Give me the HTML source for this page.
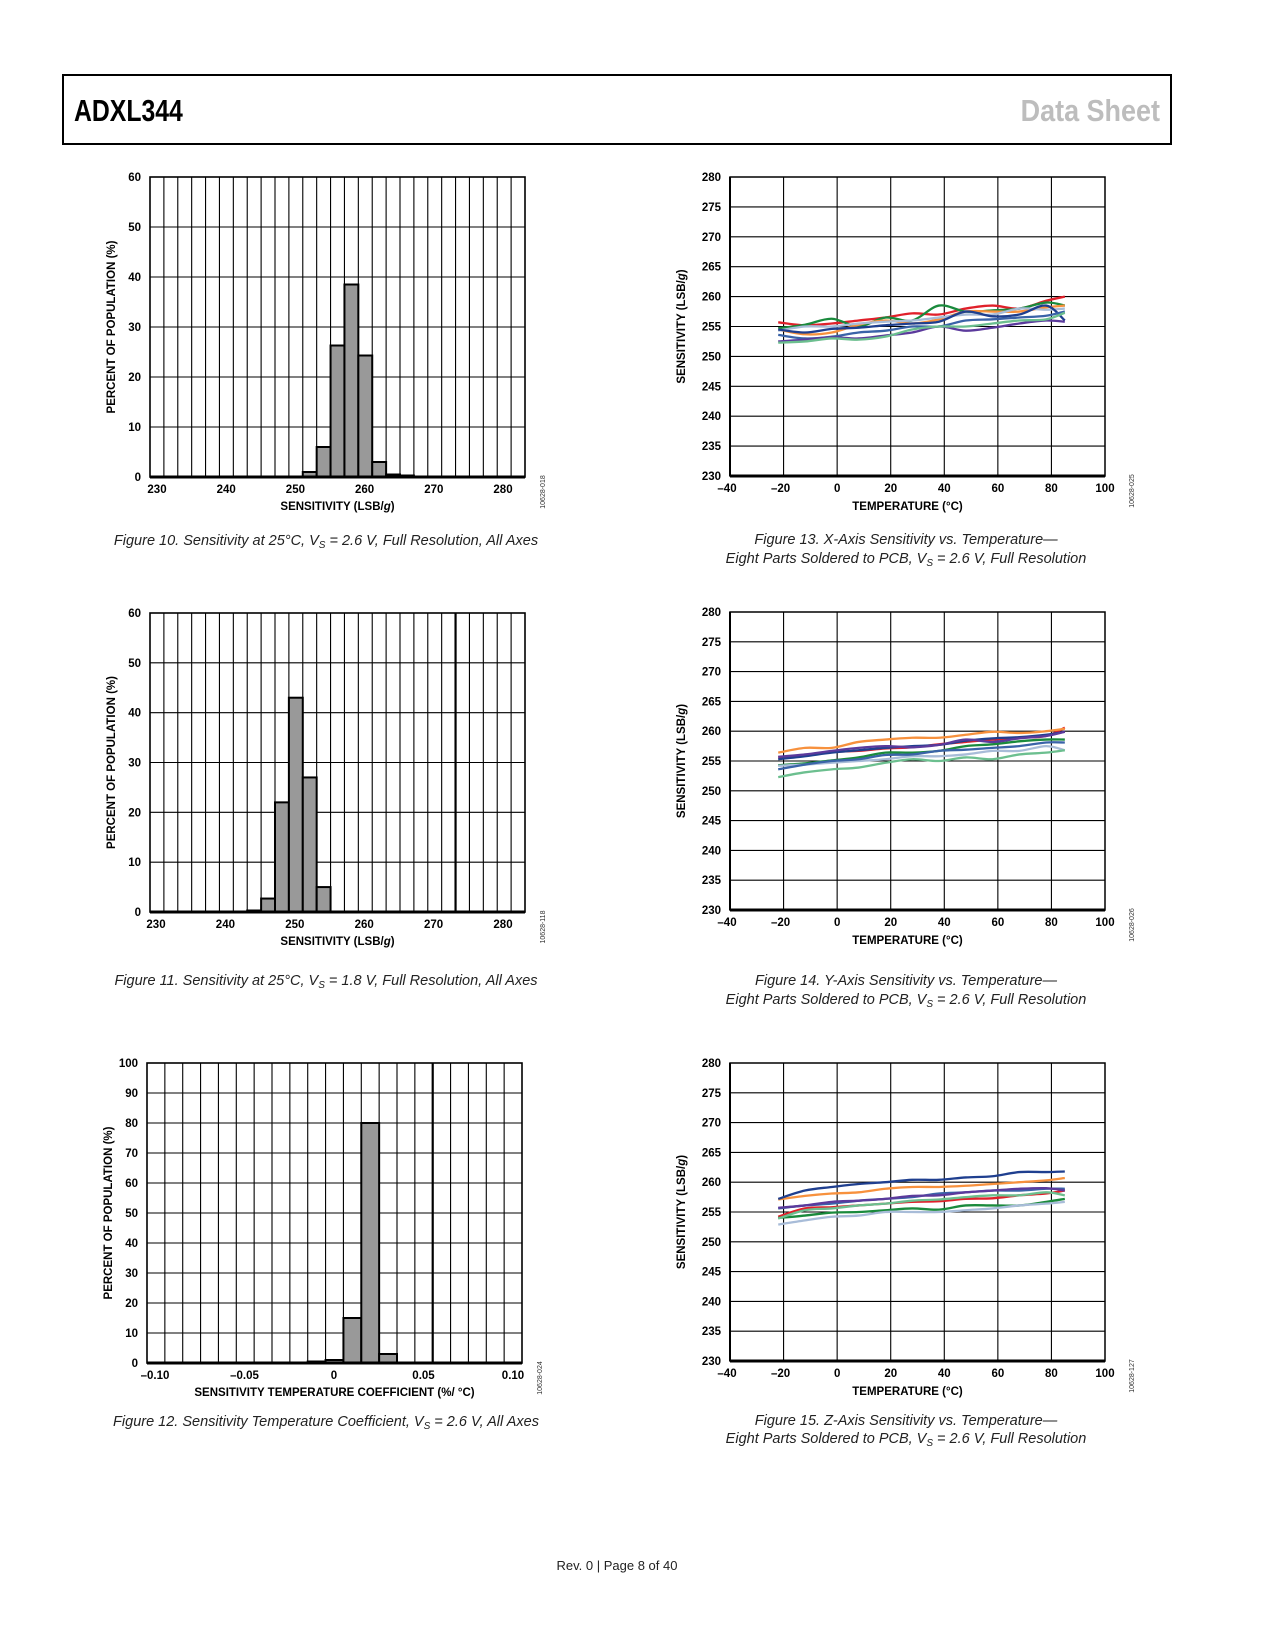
<!DOCTYPE html>
<html><head><meta charset="utf-8"><style>
html,body{margin:0;padding:0;background:#fff;width:1275px;height:1650px;overflow:hidden}
svg{display:block}
.t{font-family:"Liberation Sans",Arial,sans-serif;font-weight:bold;font-size:11.5px;fill:#000}
.cap{font-family:"Liberation Sans",Arial,sans-serif;font-style:italic;font-size:14.5px;fill:#222}
.code{font-family:"Liberation Sans",Arial,sans-serif;font-size:7px;fill:#333}
</style></head><body>
<svg id="page" width="1275" height="1650" viewBox="0 0 1275 1650" xmlns="http://www.w3.org/2000/svg">
<g>
<rect x="63" y="75" width="1108" height="69" fill="none" stroke="#000" stroke-width="2"/>
<text x="74" y="121" font-family="'Liberation Sans Narrow','Liberation Sans',sans-serif" font-weight="bold" font-size="31" transform="translate(74,0) scale(0.8,1) translate(-74,0)">ADXL344</text>
<text x="1160" y="121" text-anchor="end" font-family="'Liberation Sans Narrow','Liberation Sans',sans-serif" font-weight="bold" font-size="31" fill="#bdbdbd" transform="translate(1160,0) scale(0.87,1) translate(-1160,0)">Data Sheet</text>
</g>
<g id="charts"></g>
<text x="617" y="1570" text-anchor="middle" font-family="'Liberation Sans',sans-serif" font-size="13" fill="#222">Rev. 0 | Page 8 of 40</text>
</svg>
<script>
// ---- Histogram data ----
const h1Bins = [11,12,13,14,15,16,17,18];
const h1Vals = [1,6,26.3,38.5,24.3,3,0.5,0.3];
const h1YTicks = [0,10,20,30,40,50,60];
const h1XTicks = ["230","240","250","260","270","280"];
const h2Bins = [7,8,9,10,11,12];
const h2Vals = [0.3,2.7,22,43,27,5];
const h2YTicks = [0,10,20,30,40,50,60];
const h2XTicks = ["230","240","250","260","270","280"];
const h3Bins = [9,10,11,12,13];
const h3Vals = [0.5,1,15,80,3];
const h3YTicks = [0,10,20,30,40,50,60,70,80,90,100];
const h3XTicks = ["\u20130.10","\u20130.05","0","0.05","0.10"];
// ---- Temperature data ----
const temps = [-22,-12,-2,8,18,28,38,48,58,68,78,85];
const tYTicks = [230,235,240,245,250,255,260,265,270,275,280];
const tXTicks = [-40,-20,0,20,40,60,80,100];
const colors = ["#e0202a","#1a8a3c","#f7913d","#a8bcd8","#1f3f8f","#3a63a8","#5b3a9c","#6cbf8f"];
const xRed=[255.7,255.2,255.5,256,256.5,257.2,257,258,258.5,258,259.3,260];
const xGreen=[254.7,255.3,256.3,255,256.5,256,258.5,257.5,257.7,258,259,258.5];
const xOrange=[254.5,253.7,254,255.3,256,255.5,256.2,257.5,257.5,257.5,258.2,258.5];
const xGray=[254.3,255,255,255.5,255.8,256,256.5,257,257,258,257.8,258];
const xNavy=[254.5,254,254.6,254.8,255.2,255.5,255.8,257.5,256.7,257,258.5,256];
const xBlue=[253.6,253,253.3,254,254.3,255,255,256,256.2,256.5,256.8,257.5];
const xPurple=[252.5,252.8,253.2,253,253.5,254,255,254.3,254.8,255.5,256,255.8];
const xMint=[252.3,252.5,253,252.8,253.3,254.5,255,255,255.5,256,256.2,257.3];
const yRed=[255.6,256,256.5,256.7,257.1,257.3,257.8,258.2,258.6,258.9,259.2,260.6];
const yGreen=[254.3,254.6,255.1,255.6,256.4,256.4,256.7,257.5,257.8,258.3,258.6,258.6];
const yOrange=[256.4,257.2,257.2,258.2,258.6,258.9,258.9,259.4,259.9,259.7,260,260.4];
const yGray=[254.2,254.4,254.7,255,255.3,255.8,255.8,256.1,256.7,256.7,257.5,256.8];
const yNavy=[255.3,255.8,256.4,256.8,257.2,257.5,257.7,258.4,258.8,259,259.4,259.9];
const yBlue=[253.6,254.4,255,255.3,256,256.1,256.7,256.9,257.2,257.5,258.1,258.1];
const yPurple=[255.7,256.1,256.7,257.2,257.5,257.3,257.7,258.6,258.2,258.8,259.2,259.9];
const yMint=[252.3,253.1,253.6,253.9,254.7,255.3,255,255.6,255.3,256.1,256.4,256.8];
const zRed=[254.2,255.6,255.8,256.1,256.4,256.7,256.8,257.2,257.3,257.8,258.1,258.6];
const zGreen=[254,254.4,254.9,255,255.3,255.6,255.4,256.1,256.1,256.1,256.7,257.2];
const zOrange=[257.1,257.7,258.1,258.3,258.9,259.2,259.2,259.4,259.7,260,260.3,260.7];
const zGray=[252.9,253.6,254.2,254.4,255,255,255,255.3,255.6,256.1,256.4,256.7];
const zNavy=[257.2,258.6,259.2,259.7,260,260.4,260.4,260.8,261,261.7,261.7,261.8];
const zBlue=[255.6,256.1,256.4,256.9,257.2,257.5,258.1,258.3,258.6,258.6,258.9,258.9];
const zPurple=[255.7,256.1,256.7,256.9,257.2,257.7,257.8,258.3,258.6,258.9,259,258.6];
const zMint=[253.9,255.3,255.6,256.1,256.4,256.9,257.1,257.5,257.8,257.8,258.3,257.8];

const NS="http://www.w3.org/2000/svg";
const root=document.getElementById('charts');
function mk(tag,attrs,parent){const e=document.createElementNS(NS,tag);for(const k in attrs)e.setAttribute(k,attrs[k]);(parent||root).appendChild(e);return e;}
function txt(x,y,s,cls,anchor,parent){const e=mk('text',{x:x,y:y,class:cls,'text-anchor':anchor||'middle'},parent);e.textContent=s;return e;}

function hist(o){
  const g=mk('g',{});
  
  
  const W=o.R-o.L,H=o.B-o.T,cw=W/o.cols;
  const ymax=o.yt[o.yt.length-1];
  const ys=v=>o.B-v/ymax*H;
  for(let i=1;i<o.cols;i++){const l=mk('line',{x1:o.L+i*cw,x2:o.L+i*cw,y1:o.T,y2:o.B,stroke:'#000','stroke-width':i===o.thick?2.2:1.1},g);
    }
  o.yt.forEach(v=>{const l=mk('line',{x1:o.L,x2:o.R,y1:ys(v),y2:ys(v),stroke:'#000','stroke-width':1.1},g);
    
    const t=txt(o.L-9,ys(v)+4,String(v),'t','end',g);
    });
  o.bins.forEach((b,i)=>{const r=mk('rect',{x:o.L+b*cw,y:ys(o.vals[i]),width:cw,height:o.B-ys(o.vals[i]),fill:'#999',stroke:'#000','stroke-width':2},g);
    });
  const f=mk('rect',{x:o.L,y:o.T,width:W,height:H,fill:'none',stroke:'#000','stroke-width':1.6},g);
  
  mk('line',{x1:o.L,x2:o.R,y1:o.B,y2:o.B,stroke:'#000','stroke-width':3},g);
  o.xt.forEach((s,i)=>{const t=txt(o.x0+i*o.dx,o.B+16,s,'t','middle',g);
    });
  const xt=txt((o.L+o.R)/2,o.B+33,'','t','middle',g);xt.innerHTML=o.xtitle;
  
  const yt=txt(0,0,'PERCENT OF POPULATION (%)','t','middle',g);yt.setAttribute('transform',`translate(${o.L-35},${(o.T+o.B)/2}) rotate(-90)`);
  
  const c=txt(0,0,o.code,'code','middle',g);c.setAttribute('transform',`translate(${o.R+20},${o.B+15}) rotate(-90)`);
  
}
function smooth(p){let d=`M${p[0][0]},${p[0][1]}`;for(let i=0;i<p.length-1;i++){const a=p[i-1]||p[i],b=p[i],c=p[i+1],e=p[i+2]||c;
  d+=` C${b[0]+(c[0]-a[0])/6},${b[1]+(c[1]-a[1])/6} ${c[0]-(e[0]-b[0])/6},${c[1]-(e[1]-b[1])/6} ${c[0]},${c[1]}`;}return d;}
function tchart(o){
  const g=mk('g',{});
  
  
  const L=730,R=1105,W=R-L,H=o.B-o.T;
  const xs=v=>L+(v+40)/140*W, ys=v=>o.B-(v-230)/50*H;
  tXTicks.forEach(v=>{if(v>-40&&v<100){const l=mk('line',{x1:xs(v),x2:xs(v),y1:o.T,y2:o.B,stroke:'#000','stroke-width':1.1},g);
    }
    const t=txt(xs(v)-(v<0?3:0),o.B+16,v<0?'\u2013'+(-v):String(v),'t','middle',g);
    });
  tYTicks.forEach(v=>{const l=mk('line',{x1:L,x2:R,y1:ys(v),y2:ys(v),stroke:'#000','stroke-width':1.1},g);
    
    const t=txt(L-9,ys(v)+4,String(v),'t','end',g);
    });
  o.series.forEach((s,i)=>{const p=mk('path',{d:smooth(temps.map((t,j)=>[xs(t),ys(s[j])])),fill:'none',stroke:colors[i],'stroke-width':2.3,'stroke-linejoin':'round'},g);
    });
  const f=mk('rect',{x:L,y:o.T,width:W,height:H,fill:'none',stroke:'#000','stroke-width':1.5},g);
  
  mk('line',{x1:L,x2:R,y1:o.B,y2:o.B,stroke:'#000','stroke-width':3},g);
  mk('line',{x1:L,x2:L,y1:o.T,y2:o.B,stroke:'#000','stroke-width':2},g);
  const xt=txt((L+R)/2-10,o.B+34,'TEMPERATURE (°C)','t','middle',g);
  
  const yt=txt(0,0,'','t','middle',g);yt.innerHTML='SENSITIVITY (LSB/<tspan font-style="italic">g</tspan>)';
  yt.setAttribute('transform',`translate(${L-45},${(o.T+o.B)/2}) rotate(-90)`);
  
  const c=txt(0,0,o.code,'code','middle',g);c.setAttribute('transform',`translate(${R+29},${o.B+15}) rotate(-90)`);
  
}
const xtS='SENSITIVITY (LSB/<tspan font-style="italic">g</tspan>)';
hist({name:'figure-10-histogram',L:150,R:525,T:177,B:477,cols:27,thick:-1,bins:h1Bins,vals:h1Vals,yt:h1YTicks,xt:h1XTicks,x0:157,dx:69.2,xtitle:xtS,code:'10628-018'});
hist({name:'figure-11-histogram',L:150,R:525,T:613,B:912,cols:27,thick:22,bins:h2Bins,vals:h2Vals,yt:h2YTicks,xt:h2XTicks,x0:156,dx:69.4,xtitle:xtS,code:'10628-118'});
hist({name:'figure-12-histogram',L:147,R:522,T:1063,B:1363,cols:21,thick:16,bins:h3Bins,vals:h3Vals,yt:h3YTicks,xt:h3XTicks,x0:155,dx:89.5,xtitle:'SENSITIVITY TEMPERATURE COEFFICIENT (%/ °C)',code:'10628-024'});
tchart({name:'figure-13-x-axis-chart',T:177,B:476,series:[xRed,xGreen,xOrange,xGray,xNavy,xBlue,xPurple,xMint],code:'10628-025'});
tchart({name:'figure-14-y-axis-chart',T:612,B:910,series:[yRed,yGreen,yOrange,yGray,yNavy,yBlue,yPurple,yMint],code:'10628-026'});
tchart({name:'figure-15-z-axis-chart',T:1063,B:1361,series:[zRed,zGreen,zOrange,zGray,zNavy,zBlue,zPurple,zMint],code:'10628-127'});
// captions
const caps=[[326,545,'Figure 10. Sensitivity at 25°C, V<tspan font-size="10" dy="3">S</tspan><tspan dy="-3"> = 2.6 V, Full Resolution, All Axes</tspan>','caption-figure-10'],
[326,985,'Figure 11. Sensitivity at 25°C, V<tspan font-size="10" dy="3">S</tspan><tspan dy="-3"> = 1.8 V, Full Resolution, All Axes</tspan>','caption-figure-11'],
[326,1426,'Figure 12. Sensitivity Temperature Coefficient, V<tspan font-size="10" dy="3">S</tspan><tspan dy="-3"> = 2.6 V, All Axes</tspan>','caption-figure-12'],
[906,544,'Figure 13. X-Axis Sensitivity vs. Temperature—','caption-figure-13'],
[906,563,'Eight Parts Soldered to PCB, V<tspan font-size="10" dy="3">S</tspan><tspan dy="-3"> = 2.6 V, Full Resolution</tspan>','caption-figure-13-line2'],
[906,985,'Figure 14. Y-Axis Sensitivity vs. Temperature—','caption-figure-14'],
[906,1004,'Eight Parts Soldered to PCB, V<tspan font-size="10" dy="3">S</tspan><tspan dy="-3"> = 2.6 V, Full Resolution</tspan>','caption-figure-14-line2'],
[906,1425,'Figure 15. Z-Axis Sensitivity vs. Temperature—','caption-figure-15'],
[906,1443,'Eight Parts Soldered to PCB, V<tspan font-size="10" dy="3">S</tspan><tspan dy="-3"> = 2.6 V, Full Resolution</tspan>','caption-figure-15-line2']];
caps.forEach(c=>{const t=txt(c[0],c[1],'','cap','middle');t.innerHTML=c[2];
  
  });
</script>
</body></html>
